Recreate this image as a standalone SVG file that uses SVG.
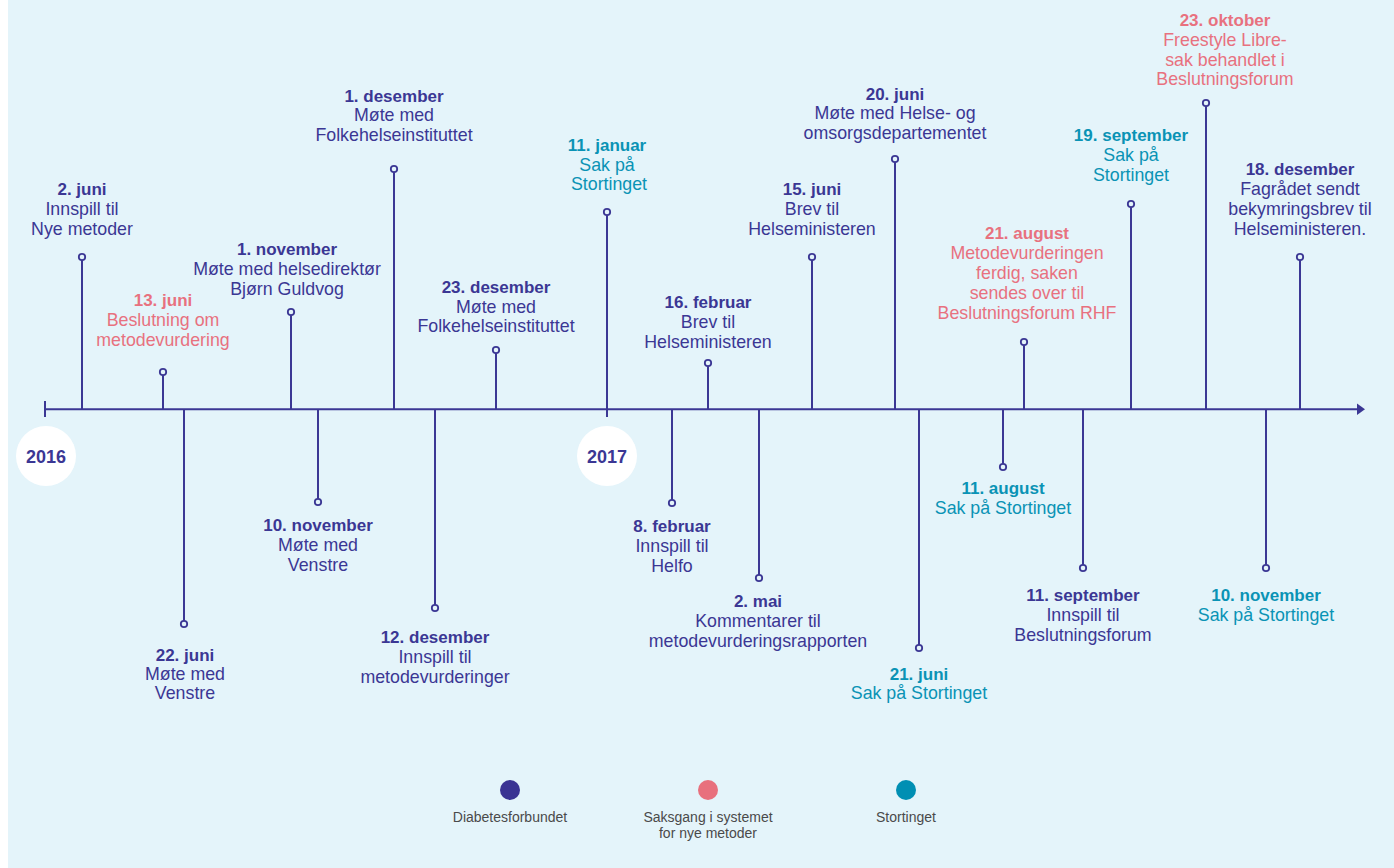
<svg xmlns="http://www.w3.org/2000/svg" width="1394" height="868" viewBox="0 0 1394 868">
<defs>
<style>
text{font-family:"Liberation Sans",Arial,sans-serif;font-size:17.8px;text-anchor:middle}
.b{font-weight:bold;font-size:17px}
.n{fill:#3B3794}
.p{fill:#E8717F}
.t{fill:#0A93B5}
.stem{stroke:#3B3794;stroke-width:2;fill:none}
.dot{fill:#E4F4FA;stroke:#3B3794;stroke-width:1.8}
.yr{fill:#3B3794;font-weight:bold;font-size:18px}
.lg{fill:#4A4A4A;font-size:14px}
</style>
</defs>
<rect x="8" y="0" width="1386" height="868" fill="#E4F4FA"/>
<g id="axis">
<line x1="45" y1="409.3" x2="1359" y2="409.3" stroke="#3B3794" stroke-width="2"/>
<line x1="45" y1="401" x2="45" y2="417" stroke="#3B3794" stroke-width="2"/>
<polygon points="1357,403.5 1365,409.3 1357,415" fill="#3B3794"/>
</g>
<g id="year-2016"><circle cx="46" cy="456" r="30" fill="#FFFFFF"/><text class="yr" x="46" y="462.5">2016</text></g>
<g id="year-2017"><circle cx="607" cy="456" r="30" fill="#FFFFFF"/><text class="yr" x="607" y="462.5">2017</text></g>
<g id="connectors">
<line class="stem" x1="82" y1="257" x2="82" y2="409"/>
<line class="stem" x1="163" y1="372" x2="163" y2="409"/>
<line class="stem" x1="291" y1="312" x2="291" y2="409"/>
<line class="stem" x1="394" y1="169" x2="394" y2="409"/>
<line class="stem" x1="496" y1="350" x2="496" y2="409"/>
<line class="stem" x1="607" y1="212" x2="607" y2="417"/>
<line class="stem" x1="708" y1="363" x2="708" y2="409"/>
<line class="stem" x1="812" y1="257" x2="812" y2="409"/>
<line class="stem" x1="895" y1="159" x2="895" y2="409"/>
<line class="stem" x1="1024" y1="342" x2="1024" y2="409"/>
<line class="stem" x1="1131" y1="204" x2="1131" y2="409"/>
<line class="stem" x1="1206" y1="103" x2="1206" y2="409"/>
<line class="stem" x1="1300" y1="257" x2="1300" y2="409"/>
<line class="stem" x1="184" y1="409" x2="184" y2="624"/>
<line class="stem" x1="318" y1="409" x2="318" y2="502"/>
<line class="stem" x1="435" y1="409" x2="435" y2="608"/>
<line class="stem" x1="672" y1="409" x2="672" y2="503"/>
<line class="stem" x1="759" y1="409" x2="759" y2="578"/>
<line class="stem" x1="919" y1="409" x2="919" y2="648"/>
<line class="stem" x1="1003" y1="409" x2="1003" y2="467"/>
<line class="stem" x1="1083" y1="409" x2="1083" y2="568"/>
<line class="stem" x1="1266" y1="409" x2="1266" y2="568"/>
</g>
<g id="e-2016-06-02"><circle class="dot" cx="82" cy="257" r="3.2"/>
<text class="n" x="82"><tspan class="b" x="82" y="195">2. juni</tspan><tspan x="82" y="215">Innspill til</tspan><tspan x="82" y="235">Nye metoder</tspan></text></g>
<g id="e-2016-06-13"><circle class="dot" cx="163" cy="372" r="3.2"/>
<text class="p" x="163"><tspan class="b" x="163" y="306">13. juni</tspan><tspan x="163" y="326">Beslutning om</tspan><tspan x="163" y="346">metodevurdering</tspan></text></g>
<g id="e-2016-11-01"><circle class="dot" cx="291" cy="312" r="3.2"/>
<text class="n" x="287"><tspan class="b" x="287" y="255">1. november</tspan><tspan x="287" y="275">Møte med helsedirektør</tspan><tspan x="287" y="295">Bjørn Guldvog</tspan></text></g>
<g id="e-2016-12-01"><circle class="dot" cx="394" cy="169" r="3.2"/>
<text class="n" x="394"><tspan class="b" x="394" y="102">1. desember</tspan><tspan x="394" y="121">Møte med</tspan><tspan x="394" y="141">Folkehelseinstituttet</tspan></text></g>
<g id="e-2016-12-23"><circle class="dot" cx="496" cy="350" r="3.2"/>
<text class="n" x="496"><tspan class="b" x="496" y="293">23. desember</tspan><tspan x="496" y="313">Møte med</tspan><tspan x="496" y="332">Folkehelseinstituttet</tspan></text></g>
<g id="e-2017-01-11"><circle class="dot" cx="607" cy="212" r="3.2"/>
<text class="t" x="607"><tspan class="b" x="607" y="151">11. januar</tspan><tspan x="607" y="171">Sak på</tspan><tspan x="609" y="190">Stortinget</tspan></text></g>
<g id="e-2017-02-16"><circle class="dot" cx="708" cy="363" r="3.2"/>
<text class="n" x="708"><tspan class="b" x="708" y="308">16. februar</tspan><tspan x="708" y="328">Brev til</tspan><tspan x="708" y="348">Helseministeren</tspan></text></g>
<g id="e-2017-06-15"><circle class="dot" cx="812" cy="257" r="3.2"/>
<text class="n" x="812"><tspan class="b" x="812" y="195">15. juni</tspan><tspan x="812" y="215">Brev til</tspan><tspan x="812" y="235">Helseministeren</tspan></text></g>
<g id="e-2017-06-20"><circle class="dot" cx="895" cy="159" r="3.2"/>
<text class="n" x="895"><tspan class="b" x="895" y="100">20. juni</tspan><tspan x="895" y="119">Møte med Helse- og</tspan><tspan x="895" y="139">omsorgsdepartementet</tspan></text></g>
<g id="e-2017-08-21"><circle class="dot" cx="1024" cy="342" r="3.2"/>
<text class="p" x="1027"><tspan class="b" x="1027" y="239">21. august</tspan><tspan x="1027" y="259">Metodevurderingen</tspan><tspan x="1027" y="279">ferdig, saken</tspan><tspan x="1027" y="299">sendes over til</tspan><tspan x="1027" y="319">Beslutningsforum RHF</tspan></text></g>
<g id="e-2017-09-19"><circle class="dot" cx="1131" cy="204" r="3.2"/>
<text class="t" x="1131"><tspan class="b" x="1131" y="141">19. september</tspan><tspan x="1131" y="161">Sak på</tspan><tspan x="1131" y="181">Stortinget</tspan></text></g>
<g id="e-2017-10-23"><circle class="dot" cx="1206" cy="103" r="3.2"/>
<text class="p" x="1225"><tspan class="b" x="1225" y="26">23. oktober</tspan><tspan x="1225" y="46">Freestyle Libre-</tspan><tspan x="1225" y="66">sak behandlet i</tspan><tspan x="1225" y="85">Beslutningsforum</tspan></text></g>
<g id="e-2017-12-18"><circle class="dot" cx="1300" cy="257" r="3.2"/>
<text class="n" x="1300"><tspan class="b" x="1300" y="175">18. desember</tspan><tspan x="1300" y="195">Fagrådet sendt</tspan><tspan x="1300" y="215">bekymringsbrev til</tspan><tspan x="1300" y="235">Helseministeren.</tspan></text></g>
<g id="e-2016-06-22"><circle class="dot" cx="184" cy="624" r="3.2"/>
<text class="n" x="185"><tspan class="b" x="185" y="661">22. juni</tspan><tspan x="185" y="680">Møte med</tspan><tspan x="185" y="699">Venstre</tspan></text></g>
<g id="e-2016-11-10"><circle class="dot" cx="318" cy="502" r="3.2"/>
<text class="n" x="318"><tspan class="b" x="318" y="531">10. november</tspan><tspan x="318" y="551">Møte med</tspan><tspan x="318" y="571">Venstre</tspan></text></g>
<g id="e-2016-12-12"><circle class="dot" cx="435" cy="608" r="3.2"/>
<text class="n" x="435"><tspan class="b" x="435" y="643">12. desember</tspan><tspan x="435" y="663">Innspill til</tspan><tspan x="435" y="683">metodevurderinger</tspan></text></g>
<g id="e-2017-02-08"><circle class="dot" cx="672" cy="503" r="3.2"/>
<text class="n" x="672"><tspan class="b" x="672" y="532">8. februar</tspan><tspan x="672" y="552">Innspill til</tspan><tspan x="672" y="572">Helfo</tspan></text></g>
<g id="e-2017-05-02"><circle class="dot" cx="759" cy="578" r="3.2"/>
<text class="n" x="758"><tspan class="b" x="758" y="607">2. mai</tspan><tspan x="758" y="627">Kommentarer til</tspan><tspan x="758" y="647">metodevurderingsrapporten</tspan></text></g>
<g id="e-2017-06-21"><circle class="dot" cx="919" cy="648" r="3.2"/>
<text class="t" x="919"><tspan class="b" x="919" y="680">21. juni</tspan><tspan x="919" y="699">Sak på Stortinget</tspan></text></g>
<g id="e-2017-08-11"><circle class="dot" cx="1003" cy="467" r="3.2"/>
<text class="t" x="1003"><tspan class="b" x="1003" y="494">11. august</tspan><tspan x="1003" y="514">Sak på Stortinget</tspan></text></g>
<g id="e-2017-09-11"><circle class="dot" cx="1083" cy="568" r="3.2"/>
<text class="n" x="1083"><tspan class="b" x="1083" y="601">11. september</tspan><tspan x="1083" y="621">Innspill til</tspan><tspan x="1083" y="641">Beslutningsforum</tspan></text></g>
<g id="e-2017-11-10"><circle class="dot" cx="1266" cy="568" r="3.2"/>
<text class="t" x="1266"><tspan class="b" x="1266" y="601">10. november</tspan><tspan x="1266" y="621">Sak på Stortinget</tspan></text></g>
<g id="legend">
<g id="lg-diabetes"><circle cx="510" cy="790" r="10" fill="#3A3393"/><text class="lg" x="510" y="822">Diabetesforbundet</text></g>
<g id="lg-saksgang"><circle cx="708" cy="790" r="10" fill="#E8707D"/><text class="lg" x="708" y="822">Saksgang i systemet</text><text class="lg" x="708" y="838">for nye metoder</text></g>
<g id="lg-stortinget"><circle cx="906" cy="790" r="10" fill="#008FB3"/><text class="lg" x="906" y="822">Stortinget</text></g>
</g>
</svg>
